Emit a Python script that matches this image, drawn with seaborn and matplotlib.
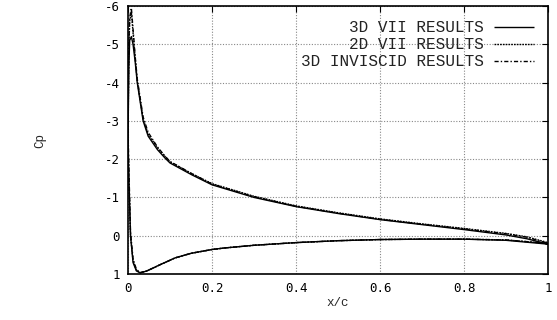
import numpy as np
import pandas as pd
import seaborn as sns
import matplotlib
matplotlib.use("Agg")
import matplotlib.pyplot as plt

# lower surface (trailing edge -> leading edge), then upper surface (leading edge -> trailing edge)
x_lower = [1.0, 0.9, 0.8, 0.7, 0.6, 0.5, 0.4, 0.3, 0.23, 0.2, 0.15, 0.112, 0.072, 0.045, 0.029, 0.02, 0.012, 0.006, 0.002, 0.0]
cp_lower_3d = [0.22, 0.12, 0.09, 0.09, 0.10, 0.13, 0.18, 0.25, 0.32, 0.36, 0.46, 0.58, 0.78, 0.92, 0.97, 0.92, 0.70, 0.0, -1.5, -2.5]
cp_lower_2d = [0.20, 0.11, 0.09, 0.09, 0.10, 0.13, 0.18, 0.25, 0.32, 0.36, 0.46, 0.58, 0.78, 0.92, 0.97, 0.90, 0.65, 0.0, -1.6, -2.6]
cp_lower_inv = [0.20, 0.11, 0.09, 0.09, 0.10, 0.13, 0.18, 0.25, 0.32, 0.36, 0.46, 0.58, 0.78, 0.92, 0.96, 0.88, 0.60, -0.1, -1.8, -2.8]

x_upper = [0.0, 0.002, 0.004, 0.008, 0.012, 0.017, 0.022, 0.036, 0.048, 0.07, 0.088, 0.1, 0.152, 0.2, 0.3, 0.4, 0.5, 0.6, 0.7, 0.8, 0.9, 0.95, 1.0]
cp_upper_3d = [-2.5, -4.4, -5.1, -5.2, -5.0, -4.55, -4.0, -3.0, -2.6, -2.25, -2.03, -1.9, -1.59, -1.33, -1.0, -0.76, -0.58, -0.42, -0.29, -0.16, -0.02, 0.08, 0.22]
cp_upper_2d = [-2.6, -4.8, -5.6, -5.85, -5.3, -4.65, -4.05, -3.05, -2.65, -2.3, -2.07, -1.93, -1.62, -1.36, -1.03, -0.78, -0.60, -0.44, -0.31, -0.19, -0.06, 0.03, 0.18]
cp_upper_inv = [-2.8, -5.0, -5.7, -5.95, -5.4, -4.7, -4.1, -3.1, -2.7, -2.32, -2.08, -1.94, -1.62, -1.35, -1.02, -0.77, -0.59, -0.43, -0.30, -0.18, -0.05, 0.04, 0.20]

labels = ["3D VII RESULTS", "2D VII RESULTS", "3D INVISCID RESULTS"]
x_ticks = [0, 0.2, 0.4, 0.6, 0.8, 1]
x_ticklabels = ["0", "0.2", "0.4", "0.6", "0.8", "1"]
y_ticks = [-6, -5, -4, -3, -2, -1, 0, 1]

frames = []
for lab, lo, up in zip(labels, [cp_lower_3d, cp_lower_2d, cp_lower_inv], [cp_upper_3d, cp_upper_2d, cp_upper_inv]):
    xs = list(x_lower) + list(x_upper)
    cs = list(lo) + list(up)
    frames.append(pd.DataFrame({"x": xs, "cp": cs, "series": lab, "order": range(len(xs))}))
df = pd.concat(frames, ignore_index=True)

sns.set_style("white")
plt.rcParams['font.family'] = ['Liberation Mono', 'DejaVu Sans']

fig = plt.figure(figsize=(5.57, 3.2), dpi=100)
ax = fig.add_axes([128/557, 1-274/320, 420/557, 268/320])

styles = {"3D VII RESULTS": (0, ()), "2D VII RESULTS": (0, (1.2, 0.8)), "3D INVISCID RESULTS": (0, (3, 1.5, 1, 1.5))}
for lab in labels:
    sub = df[df.series == lab]
    sns.lineplot(data=sub, x="x", y="cp", sort=False, estimator=None, ax=ax,
                 color="black", lw=1.0, linestyle=styles[lab], label=lab)

ax.set_xlim(0, 1)
ax.set_ylim(1, -6)
ax.set_xticks(x_ticks)
ax.set_xticklabels(x_ticklabels)
ax.set_yticks(y_ticks)
ax.set_yticklabels([str(v) for v in y_ticks])
ax.tick_params(direction="in", length=4, width=0.8, labelsize=9, top=True, right=True, colors="black", pad=6)
for lbl in ax.get_xticklabels() + ax.get_yticklabels():
    lbl.set_family(['DejaVu Sans Mono'])
ax.grid(True, color="#888888", linestyle=(0, (1, 1.5)), lw=0.8)
for s in ax.spines.values():
    s.set_color("black")
    s.set_linewidth(1.2)
ax.set_xlabel("x/c", fontsize=9, labelpad=1)
ax.set_ylabel("Cp", fontsize=9, labelpad=42)

leg = ax.legend(loc="upper right", frameon=False, markerfirst=False, fontsize=11.5,
                handlelength=2.5, borderaxespad=0.5, labelspacing=0.12, handletextpad=0.6)
for t in leg.get_texts():
    t.set_family(['Liberation Mono'])
    t.set_color("#222222")

fig.savefig("out.png", dpi=100)
